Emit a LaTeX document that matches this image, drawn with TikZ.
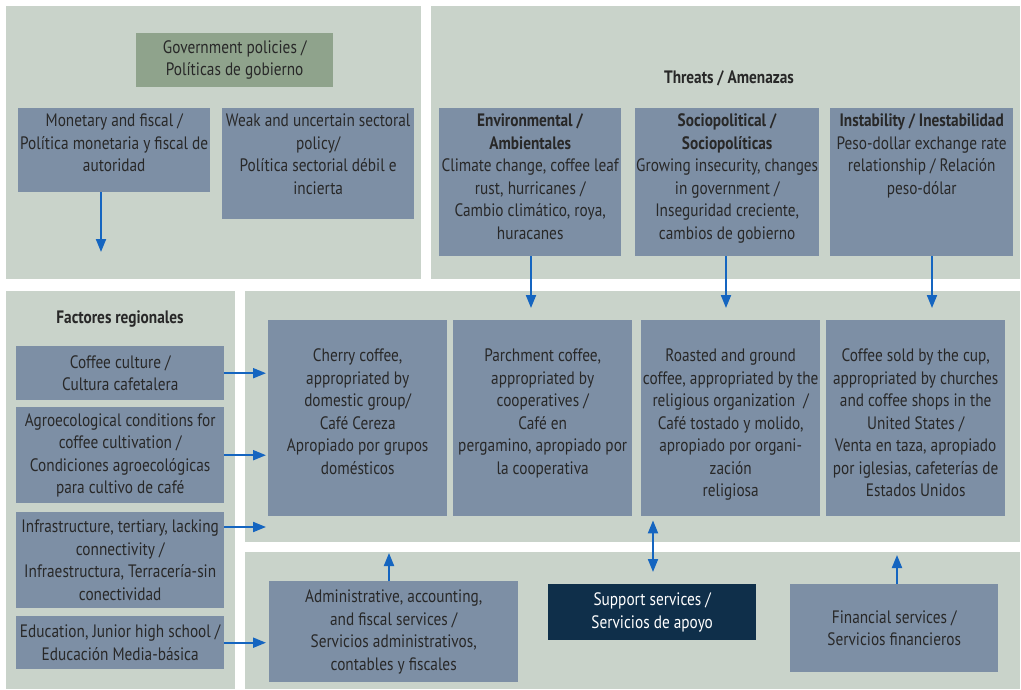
\documentclass[tikz,border=0pt]{standalone}
\usepackage{fontspec}
\setmainfont{PT Sans}[FakeStretch=0.85]
\usetikzlibrary{arrows.meta}
\definecolor{panelbg}{RGB}{201,211,202}
\definecolor{boxbg}{RGB}{125,143,165}
\definecolor{govbg}{RGB}{143,163,140}
\definecolor{supbg}{RGB}{15,47,74}
\definecolor{arrowblue}{RGB}{21,101,192}
\definecolor{ink}{RGB}{40,40,40}
\tikzset{%
  panel/.style={fill=panelbg, anchor=north west, inner sep=0pt},% light background block
  box/.style={fill=boxbg, anchor=north west, inner sep=0pt, text=ink,
    font=\fontsize{18}{22.5}\selectfont},% grey-blue field
  title/.style={text=ink, font=\fontsize{18}{22.5}\selectfont\bfseries},% block heading
  flow/.style={line width=2pt, arrowblue, -{Triangle[length=13pt,width=10pt]}}% blue arrow
}
\newcommand*{\topcell}[4]{\parbox[c][#2][t]{#1}{\centering\vspace*{#3}\strut#4\par}}
\newcommand*{\midcell}[3]{\parbox[c][#2][c]{#1}{\centering#3\par}}

\begin{document}
\begin{tikzpicture}[x=1pt, y=-1pt]
\fill[white] (0,0) rectangle (1021,690);
\useasboundingbox (0,0) rectangle (1021,690);

% background blocks
\node[panel, minimum width=415pt, minimum height=273pt] (pgov) at (6,6) {};
\node[panel, minimum width=589pt, minimum height=273pt] (pthr) at (431,6) {};
\node[panel, minimum width=229pt, minimum height=398pt] (preg) at (6,291) {};
\node[panel, minimum width=775pt, minimum height=251pt] (pprod) at (245,291) {};
\node[panel, minimum width=775pt, minimum height=137pt] (psup) at (245,552) {};

% government policies
\node[box, fill=govbg] (gov) at (136,33) {\midcell{197pt}{54pt}{Government policies /\\Políticas de gobierno}};
\node[box] (mon) at (18,108) {\topcell{192pt}{84pt}{3pt}{Monetary and fiscal /\\Política monetaria y fiscal de\\autoridad}};
\node[box] (weak) at (222,108) {\topcell{192pt}{111pt}{3pt}{Weak and uncertain sectoral\\policy/\\Política sectorial débil e\\incierta}};

% threats
\node[title] (thr) at (729,78) {Threats / Amenazas};
\node[box] (env) at (439,108) {\topcell{182pt}{148pt}{3pt}{\textbf{Environmental /}\\\textbf{Ambientales}\\Climate change, coffee leaf\\rust, hurricanes /\\Cambio climático, roya,\\huracanes}};
\node[box] (soc) at (635,108) {\topcell{184pt}{148pt}{3pt}{\textbf{Sociopolitical /}\\\textbf{Sociopolíticas}\\Growing insecurity, changes\\in government /\\Inseguridad creciente,\\cambios de gobierno}};
\node[box] (inst) at (830,108) {\topcell{183pt}{148pt}{3pt}{\textbf{Instability / Inestabilidad}\\Peso-dollar exchange rate\\relationship / Relación\\peso-dólar}};

% regional factors
\node[title] (reg) at (120,319) {Factores regionales};
\node[box] (cult) at (16,346) {\midcell{208pt}{54pt}{Coffee culture /\\Cultura cafetalera}};
\node[box] (agro) at (16,407) {\midcell{208pt}{96pt}{Agroecological conditions for\\coffee cultivation /\\Condiciones agroecológicas\\para cultivo de café}};
\node[box] (infra) at (16,512) {\midcell{208pt}{96pt}{Infrastructure, tertiary, lacking\\connectivity /\\Infraestructura, Terracería-sin\\conectividad}};
\node[box] (edu) at (16,616) {\midcell{208pt}{53pt}{Education, Junior high school /\\Educación Media-básica}};

% products
\node[box] (cherry) at (268,320) {\topcell{179pt}{196pt}{26pt}{Cherry coffee,\\appropriated by\\domestic group/\\Café Cereza\\Apropiado por grupos\\domésticos}};
\node[box] (parch) at (453,320) {\topcell{179pt}{196pt}{26pt}{Parchment coffee,\\appropriated by\\cooperatives /\\Café en\\pergamino, apropiado por\\la cooperativa}};
\node[box] (roast) at (641,320) {\topcell{179pt}{196pt}{26pt}{Roasted and ground\\coffee, appropriated by the\\religious organization~~/\\Café tostado y molido,\\apropiado por organi-\\zación\\religiosa}};
\node[box] (cup) at (826,320) {\topcell{179pt}{196pt}{26pt}{Coffee sold by the cup,\\appropriated by churches\\and coffee shops in the\\United States /\\Venta en taza, apropiado\\por iglesias, cafeterías de\\Estados Unidos}};

% support services
\node[box] (admin) at (269,581) {\midcell{249pt}{101pt}{Administrative, accounting,\\and fiscal services /\\Servicios administrativos,\\contables y fiscales}};
\node[box, fill=supbg, text=white] (sup) at (548,584) {\midcell{208pt}{56pt}{Support services /\\Servicios de apoyo}};
\node[box] (fin) at (790,584) {\midcell{208pt}{88pt}{Financial services /\\Servicios financieros}};

% arrow ends
\coordinate (monend) at (101,252);
\coordinate (envend) at (531,308);
\coordinate (socend) at (726,308);
\coordinate (instend) at (932,308);
\coordinate (infraend) at (266,527);
\coordinate (admend) at (389,553);
\coordinate (dblend) at (653,572);
\coordinate (finend) at (897,555);

\draw[flow] (mon.south -| monend) -- (monend);
\draw[flow] (env.south -| envend) -- (envend);
\draw[flow] (soc.south -| socend) -- (socend);
\draw[flow] (inst.south -| instend) -- (instend);
\draw[flow, shorten >=2pt] (cult.east) -- (cult.east -| cherry.west);
\draw[flow, shorten >=2pt] (agro.east) -- (agro.east -| cherry.west);
\draw[flow] (infra.east |- infraend) -- (infraend);
\draw[flow, shorten >=3pt] (edu.east) -- (edu.east -| admin.west);
\draw[flow] (admin.north -| admend) -- (admend);
\draw[flow, {Triangle[length=13pt,width=10pt]}-{Triangle[length=13pt,width=10pt]}, shorten <=4pt] (roast.south -| dblend) -- (dblend);
\draw[flow] (fin.north -| finend) -- (finend);

\end{tikzpicture}
\end{document}
